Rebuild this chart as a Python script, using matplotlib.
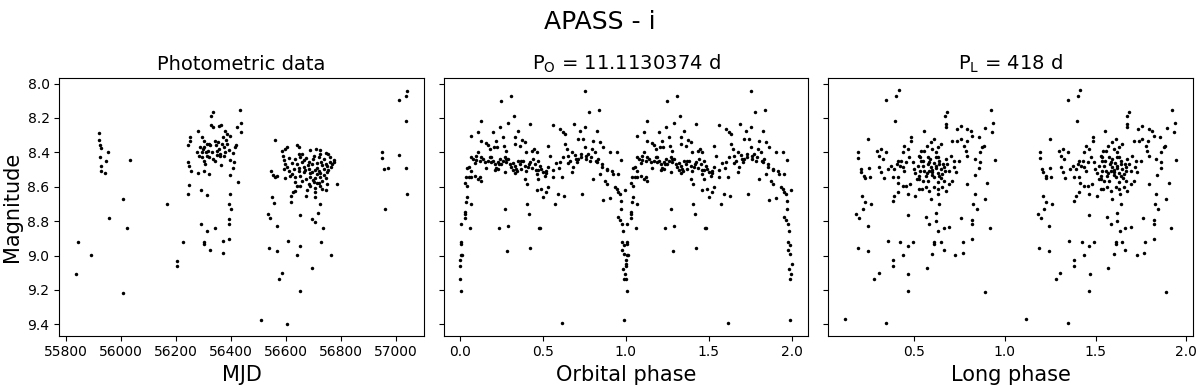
import numpy as np
from matplotlib import pyplot as plt

# photometric data: MJD, magnitude
mjd = [55836, 55845, 55890, 55919, 55919, 55923, 55926, 55924, 55926, 55928,
       55946, 55943, 55954, 55956, 56009, 56009, 56021, 56032, 56167, 56206,
       56206, 56227,
       56435, 56438, 56437, 56422, 56334, 56329, 56329, 56334, 56356, 56365,
       56380, 56386, 56398, 56280, 56252, 56252, 56244, 56295, 56301, 56313,
       56304, 56309, 56289, 56277, 56283, 56295, 56301, 56307, 56319, 56325,
       56343, 56353, 56368, 56377, 56380, 56374, 56362, 56349, 56392, 56407,
       56414, 56419, 56398, 56410, 56246, 56249, 56256, 56280, 56301, 56319,
       56341, 56365, 56407, 56398, 56426, 56249, 56246, 56292, 56314, 56396,
       56392, 56402, 56392, 56392, 56292, 56341, 56314, 56392, 56370, 56304,
       56304, 56325, 56370, 56511,
       56300, 56318, 56330, 56345, 56358, 56372, 56384, 56296, 56312, 56336,
       56350, 56388, 56320, 56360,
       56605, 56562, 56535, 56544, 56550, 56556, 56568, 56538, 56568, 56610,
       56642, 56652, 56588, 56577, 56652, 56696, 56653, 56697, 56708, 56718,
       56734, 56729, 56763, 56724, 56708, 56673, 56619, 56619, 56627, 56787,
       56641, 56647, 56587, 56599, 56605, 56690, 56712, 56726, 56745, 56754,
       56647, 56653, 56589, 56593, 56635, 56672, 56702, 56720, 56739, 56775,
       56776, 56596, 56623, 56641, 56659, 56684, 56696, 56714, 56733, 56751,
       56593, 56611, 56629, 56647, 56666, 56684, 56706, 56720, 56739, 56751,
       56548, 56553, 56560, 56568, 56599, 56617, 56635, 56653, 56672, 56690,
       56708, 56726, 56745, 56635, 56659, 56684, 56702, 56720, 56641, 56708,
       56733, 56745, 56678, 56633, 56706,
       56659, 56611, 56726, 56763, 56769, 56696, 56666, 56623, 56605, 56714,
       56733, 56690, 56653, 56751, 56726,
       56700, 56715, 56730, 56745, 56760, 56680, 56665, 56650, 56725, 56740,
       56755, 56700, 56715, 56690, 56670, 56760,
       56950, 56950, 56957, 56974, 56961, 57014, 57036, 57042, 57036, 57014,
       57036, 57042]
mag = [9.105, 8.92, 8.997, 8.29, 8.33, 8.36, 8.375, 8.425, 8.48, 8.51,
       8.45, 8.52, 8.40, 8.78, 8.67, 9.215, 8.84, 8.445, 8.70, 9.03,
       9.06, 8.92,
       8.154, 8.232, 8.284, 8.255, 8.168, 8.19, 8.241, 8.255, 8.247, 8.241,
       8.274, 8.293, 8.307, 8.274, 8.313, 8.336, 8.357, 8.309, 8.332, 8.351,
       8.37, 8.40, 8.367, 8.40, 8.42, 8.43, 8.448, 8.467, 8.43, 8.36,
       8.332, 8.342, 8.351, 8.37, 8.40, 8.419, 8.409, 8.39, 8.386, 8.405,
       8.37, 8.36, 8.444, 8.458, 8.458, 8.477, 8.506, 8.521, 8.51, 8.525,
       8.448, 8.471, 8.49, 8.529, 8.573, 8.589, 8.645, 8.618, 8.647, 8.641,
       8.699, 8.728, 8.786, 8.819, 8.819, 8.838, 8.859, 8.902, 8.917, 8.921,
       8.934, 8.97, 8.983, 9.375,
       8.38, 8.395, 8.40, 8.36, 8.38, 8.31, 8.33, 8.40, 8.42, 8.44,
       8.415, 8.35, 8.35, 8.42,
       9.398, 8.326, 8.757, 8.782, 8.66, 8.693, 8.83, 8.956, 8.975, 8.915,
       8.998, 8.946, 9.10, 9.134, 9.209, 9.07, 8.763, 8.786, 8.805, 8.751,
       8.84, 8.921, 8.998, 8.699, 8.66, 8.656, 8.689, 8.656, 8.631, 8.583,
       8.357, 8.371, 8.39, 8.38, 8.371, 8.386, 8.38, 8.386, 8.405, 8.409,
       8.409, 8.429, 8.419, 8.444, 8.438, 8.432, 8.419, 8.429, 8.438, 8.444,
       8.454, 8.467, 8.463, 8.467, 8.458, 8.458, 8.467, 8.463, 8.471, 8.477,
       8.496, 8.506, 8.496, 8.506, 8.487, 8.496, 8.502, 8.51, 8.496, 8.515,
       8.51, 8.529, 8.541, 8.535, 8.548, 8.535, 8.544, 8.535, 8.554, 8.541,
       8.548, 8.541, 8.548, 8.573, 8.567, 8.583, 8.573, 8.579, 8.598, 8.606,
       8.612, 8.618, 8.618, 8.622, 8.631,
       8.409, 8.432, 8.409, 8.487, 8.467, 8.515, 8.515, 8.525, 8.487, 8.525,
       8.564, 8.598, 8.593, 8.583, 8.598,
       8.44, 8.49, 8.455, 8.47, 8.455, 8.475, 8.445, 8.49, 8.52, 8.53,
       8.50, 8.56, 8.58, 8.52, 8.50, 8.43,
       8.40, 8.435, 8.498, 8.489, 8.73, 8.097, 8.07, 8.041, 8.216, 8.413,
       8.489, 8.641]

# folded on the orbital period (phase 0-1)
orb_phase = [0.010, 0.004, 0.004, 0.004, 0.010, 0.016, 0.006, 0.010, 0.010, 0.034,
             0.034, 0.034, 0.062, 0.040, 0.066, 0.044, 0.034, 0.042, 0.040, 0.054,
             0.070, 0.046, 0.054, 0.066, 0.091, 0.111, 0.121, 0.131,
             0.070, 0.080, 0.101, 0.101, 0.111, 0.121, 0.131, 0.151, 0.161, 0.171,
             0.181, 0.191, 0.201, 0.211, 0.221, 0.231, 0.241, 0.251, 0.262, 0.272,
             0.282, 0.292, 0.302, 0.312, 0.322, 0.332, 0.342, 0.352, 0.362, 0.372,
             0.382, 0.392, 0.402, 0.412, 0.423, 0.433, 0.443, 0.453, 0.457, 0.463,
             0.392, 0.404, 0.463,
             0.070, 0.111, 0.127, 0.131, 0.161, 0.171, 0.181, 0.201, 0.207, 0.221,
             0.225, 0.241, 0.247, 0.262, 0.268, 0.282, 0.292, 0.312, 0.328, 0.332,
             0.336, 0.352, 0.362, 0.376, 0.392, 0.402, 0.423, 0.437, 0.449,
             0.211, 0.231, 0.272, 0.332, 0.348,
             0.272, 0.235, 0.292, 0.286, 0.404, 0.416, 0.421, 0.479,
             0.463, 0.473, 0.483, 0.493, 0.503, 0.513, 0.523, 0.533, 0.533, 0.543,
             0.473, 0.493, 0.503, 0.523, 0.533, 0.483, 0.563, 0.563, 0.573, 0.583,
             0.594, 0.604, 0.614, 0.624, 0.630, 0.614, 0.604, 0.624, 0.634, 0.634,
             0.644, 0.654, 0.664, 0.674, 0.674, 0.684, 0.690, 0.694, 0.704, 0.714,
             0.714, 0.724, 0.734, 0.738, 0.744, 0.754, 0.754, 0.758, 0.764, 0.774,
             0.778, 0.785, 0.795, 0.805, 0.805, 0.815, 0.825, 0.825, 0.835, 0.841,
             0.845, 0.845, 0.855, 0.865, 0.865, 0.875, 0.885, 0.890, 0.905, 0.905,
             0.915, 0.925, 0.945, 0.956, 0.971, 0.935, 0.945, 0.956, 0.966, 0.972,
             0.972, 0.996, 0.952, 0.966, 0.980, 0.986, 0.980, 0.992, 0.980, 0.992,
             1.000, 0.986, 0.996, 0.992, 0.992,
             0.09, 0.14, 0.19, 0.24, 0.28, 0.32, 0.37, 0.42, 0.47, 0.52,
             0.56, 0.60, 0.65, 0.70, 0.73, 0.76, 0.79, 0.82, 0.86, 0.89]
orb_mag = [9.209, 9.135, 9.06, 9.027, 8.996, 8.995, 8.935, 8.921, 8.819, 8.78,
           8.757, 8.747, 8.84, 8.69, 8.703, 8.66, 8.579, 8.595, 8.545, 8.541,
           8.545, 8.49, 8.483, 8.506, 8.535, 8.554, 8.545, 8.564,
           8.425, 8.438, 8.419, 8.444, 8.40, 8.448, 8.429, 8.458, 8.49, 8.448,
           8.429, 8.458, 8.448, 8.467, 8.49, 8.458, 8.438, 8.467, 8.448, 8.425,
           8.458, 8.438, 8.467, 8.487, 8.502, 8.477, 8.496, 8.448, 8.467, 8.496,
           8.448, 8.477, 8.506, 8.487, 8.458, 8.49, 8.438, 8.467, 8.502, 8.525,
           8.554, 8.583, 8.618,
           8.303, 8.284, 8.336, 8.216, 8.347, 8.355, 8.38, 8.284, 8.37, 8.336,
           8.37, 8.255, 8.10, 8.313, 8.361, 8.39, 8.232, 8.071, 8.187, 8.309,
           8.351, 8.274, 8.361, 8.328, 8.342, 8.40, 8.236, 8.39, 8.38,
           8.502, 8.496, 8.515, 8.521, 8.506,
           8.728, 8.838, 8.83, 8.975, 8.699, 8.757, 8.956, 8.84,
           8.40, 8.448, 8.477, 8.496, 8.515, 8.535, 8.506, 8.487, 8.361, 8.419,
           8.554, 8.612, 8.66, 8.631, 8.602, 8.84, 8.239, 8.545, 8.699, 8.463,
           8.641, 8.458, 8.545, 8.425, 8.656, 9.394, 8.264, 8.284, 8.294, 8.351,
           8.38, 8.419, 8.448, 8.515, 8.40, 8.487, 8.236, 8.413, 8.458, 8.438,
           8.322, 8.274, 8.409, 8.641, 8.322, 8.371, 8.255, 8.042, 8.438, 8.409,
           8.168, 8.448, 8.38, 8.554, 8.332, 8.40, 8.458, 8.274, 8.438, 8.154,
           8.342, 8.525, 8.487, 8.371, 8.676, 8.564, 8.496, 8.583, 8.664, 8.40,
           8.506, 8.525, 8.40, 8.525, 8.444, 8.602, 8.612, 8.631, 8.641, 8.684,
           8.728, 8.618, 8.776, 8.795, 8.819, 8.857, 8.921, 8.94, 8.969, 8.989,
           9.047, 9.076, 9.105, 9.134, 9.375,
           8.46, 8.44, 8.43, 8.47, 8.44, 8.46, 8.45, 8.47, 8.50, 8.52,
           8.50, 8.49, 8.46, 8.44, 8.43, 8.42, 8.43, 8.45, 8.47, 8.50]

# folded on the long period (phase 0-1)
long_phase = [0.119, 0.347, 0.415, 0.402, 0.347, 0.398, 0.247, 0.192, 0.192, 0.298,
              0.320, 0.347, 0.310, 0.329, 0.207, 0.210, 0.225, 0.228, 0.251, 0.256,
              0.310, 0.320, 0.334, 0.358, 0.376, 0.391, 0.404, 0.411, 0.421, 0.429,
              0.438, 0.447, 0.456, 0.438, 0.447, 0.466, 0.475, 0.484, 0.484, 0.493,
              0.498, 0.506, 0.517, 0.530, 0.535, 0.539, 0.383, 0.411, 0.414, 0.438,
              0.456, 0.479, 0.411, 0.391, 0.383, 0.466, 0.506, 0.530, 0.213, 0.228,
              0.219, 0.183, 0.198, 0.262, 0.245, 0.466, 0.189, 0.245, 0.356, 0.425,
              0.466, 0.494, 0.438, 0.383, 0.383, 0.305, 0.280, 0.469, 0.466,
              0.684, 0.672, 0.676, 0.676, 0.553, 0.922, 0.936, 0.931, 0.944, 0.894,
              0.876, 0.885, 0.862, 0.863, 0.860, 0.834, 0.836, 0.856, 0.821, 0.812,
              0.794, 0.790, 0.776, 0.785, 0.794, 0.758, 0.739, 0.736, 0.758, 0.712,
              0.721, 0.748, 0.730, 0.794, 0.903, 0.834, 0.889, 0.827, 0.845, 0.761,
              0.821, 0.821, 0.918, 0.821, 0.770, 0.768, 0.727, 0.663, 0.612, 0.612,
              0.648, 0.600, 0.569, 0.566, 0.584, 0.620, 0.635, 0.663, 0.695, 0.639,
              0.620, 0.635, 0.891,
              0.529, 0.538, 0.548, 0.557, 0.566, 0.575, 0.584, 0.593, 0.602, 0.612,
              0.621, 0.630, 0.639, 0.648, 0.657, 0.666, 0.675, 0.684, 0.694, 0.703,
              0.593, 0.612, 0.630, 0.648, 0.602, 0.571, 0.557, 0.535, 0.529, 0.542,
              0.566, 0.584, 0.593, 0.612, 0.630, 0.657, 0.675, 0.694, 0.712, 0.718,
              0.575, 0.630, 0.548, 0.639, 0.584, 0.621, 0.666,
              0.58, 0.60, 0.61, 0.62, 0.63, 0.60, 0.59, 0.64, 0.66, 0.55,
              0.57, 0.62, 0.67, 0.52, 0.65]
long_mag = [9.371, 9.394, 8.038, 8.071, 8.096, 8.216, 8.324, 8.40, 8.434, 8.39,
            8.38, 8.40, 8.419, 8.438, 8.496, 8.515, 8.535, 8.548, 8.49, 8.541,
            8.487, 8.515, 8.548, 8.496, 8.477, 8.496, 8.467, 8.448, 8.477, 8.452,
            8.487, 8.506, 8.458, 8.40, 8.361, 8.38, 8.429, 8.309, 8.332, 8.458,
            8.496, 8.521, 8.554, 8.535, 8.429, 8.39, 8.545, 8.545, 8.579, 8.598,
            8.593, 8.587, 8.631, 8.656, 8.684, 8.641, 8.656, 8.612, 8.656, 8.69,
            8.728, 8.757, 8.78, 8.699, 8.83, 8.763, 8.954, 8.973, 8.915, 8.921,
            8.944, 8.921, 8.998, 9.027, 9.06, 9.101, 9.134, 9.105, 9.209,
            8.168, 8.187, 8.236, 8.255, 8.274, 8.154, 8.232, 8.284, 8.444, 8.259,
            8.371, 8.361, 8.40, 8.458, 8.49, 8.438, 8.529, 8.309, 8.303, 8.278,
            8.264, 8.336, 8.361, 8.39, 8.419, 8.322, 8.332, 8.264, 8.245, 8.332,
            8.448, 8.448, 8.515, 8.583, 8.579, 8.641, 8.67, 8.703, 8.728, 8.78,
            8.792, 8.819, 8.84, 8.904, 8.919, 8.985, 8.996, 8.967, 8.921, 8.935,
            8.921, 8.992, 9.07, 8.776, 8.815, 8.801, 8.857, 8.838, 8.836, 8.699,
            8.751, 8.641, 9.211,
            8.419, 8.448, 8.477, 8.506, 8.535, 8.429, 8.458, 8.487, 8.515, 8.545,
            8.40, 8.429, 8.467, 8.496, 8.525, 8.564, 8.438, 8.467, 8.506, 8.419,
            8.342, 8.322, 8.371, 8.351, 8.38, 8.361, 8.39, 8.506, 8.554, 8.612,
            8.602, 8.622, 8.67, 8.602, 8.612, 8.602, 8.622, 8.583, 8.564, 8.487,
            8.564, 8.573, 8.564, 8.535, 8.506, 8.477, 8.487,
            8.47, 8.50, 8.46, 8.49, 8.52, 8.53, 8.44, 8.45, 8.47, 8.45,
            8.52, 8.43, 8.51, 8.48, 8.55]

titles = ["Photometric data", r"P$_\mathrm{O}$ = 11.1130374 d", r"P$_\mathrm{L}$ = 418 d"]
xlabels = ["MJD", "Orbital phase", "Long phase"]

fig, axes = plt.subplots(1, 3, figsize=(12, 3.86), dpi=100, sharey=True)
fig.subplots_adjust(left=0.0494, right=0.9939, bottom=0.1303, top=0.797, wspace=0.055)
fig.suptitle("APASS - i", fontsize=18, y=0.975)

axes[0].plot(mjd, mag, 'o', color='black', ms=2.5, mew=0)

orb_phase = np.array(orb_phase)
axes[1].plot(np.concatenate([orb_phase, orb_phase + 1]), orb_mag + orb_mag,
             'o', color='black', ms=2.5, mew=0)

long_phase = np.array(long_phase)
axes[2].plot(np.concatenate([long_phase, long_phase + 1]), long_mag + long_mag,
             'o', color='black', ms=2.5, mew=0)

for ax, title, xl in zip(axes, titles, xlabels):
    ax.set_title(title, fontsize=14)
    ax.set_xlabel(xl, fontsize=15)
    ax.tick_params(labelsize=10)

axes[0].set_ylabel("Magnitude", fontsize=15)
axes[0].set_xticks([55800, 56000, 56200, 56400, 56600, 56800, 57000])
axes[1].set_xticks([0.0, 0.5, 1.0, 1.5, 2.0])
axes[2].set_xticks([0.5, 1.0, 1.5, 2.0])
axes[0].set_yticks([8.0, 8.2, 8.4, 8.6, 8.8, 9.0, 9.2, 9.4])
axes[0].invert_yaxis()

fig.savefig("out.png")
